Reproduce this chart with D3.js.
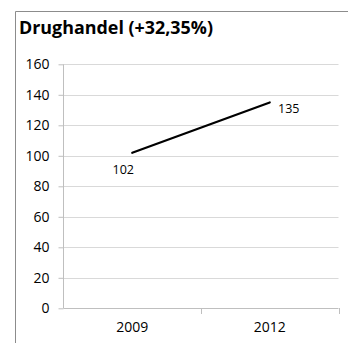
<!DOCTYPE html>
<html><head><meta charset="utf-8">
<script src="https://cdn.jsdelivr.net/npm/d3@7"></script>
<style>html,body{margin:0;padding:0;background:#fff;}</style>
</head><body>
<svg id="c" width="348" height="343"></svg>
<script>
const title = "Drughandel (+32,35%)";
const categories = ["2009", "2012"];
const values = [102, 135];
const yTicks = [0, 20, 40, 60, 80, 100, 120, 140, 160];

(function () {
const svg = d3.select("#c");
const font = "'Open Sans', 'Liberation Sans', sans-serif";

// frame (top and left only)
svg.append("line").attr("x1", 15.5).attr("x2", 348).attr("y1", 11.5).attr("y2", 11.5).attr("stroke", "#8c8c8c");
svg.append("line").attr("x1", 15.5).attr("x2", 15.5).attr("y1", 11.5).attr("y2", 343).attr("stroke", "#8c8c8c");

svg.append("text").attr("x", 19).attr("y", 34).text(title)
  .attr("font-family", font).attr("font-weight", "bold").attr("font-size", 18.5)
  .attr("textLength", 194).attr("lengthAdjust", "spacingAndGlyphs").attr("fill", "#000");

const pLeft = 63.5, pRight = 338.5, pTop = 64.3, pBottom = 308.3;
const x = d3.scaleBand().domain(categories).range([pLeft, pRight]);
const y = d3.scaleLinear().domain([0, 160]).range([pBottom, pTop]);

// gridlines
svg.append("g").selectAll("line").data(yTicks.filter(d => d > 0)).join("line")
  .attr("x1", pLeft).attr("x2", pRight)
  .attr("y1", d => Math.round(y(d)) + 0.5).attr("y2", d => Math.round(y(d)) + 0.5)
  .attr("stroke", "#d9d9d9").attr("stroke-width", 1);

// y axis
const yAxis = svg.append("g").attr("transform", `translate(${pLeft},0)`)
  .call(d3.axisLeft(y).tickValues(yTicks).tickSize(5).tickPadding(9));
yAxis.select(".domain").attr("stroke", "#bfbfbf").attr("d", `M0,${pTop}V${pBottom}`);
yAxis.selectAll(".tick line").attr("stroke", "#bfbfbf");
yAxis.selectAll(".tick text").attr("font-family", font).attr("font-size", 14).attr("fill", "#000");

// x axis
const xAxis = svg.append("g").attr("transform", `translate(0,${Math.round(pBottom) + 0.5})`)
  .call(d3.axisBottom(x).tickSize(0).tickPadding(14));
xAxis.select(".domain").attr("stroke", "#bfbfbf").attr("d", `M${pLeft},0H${pRight}`);
xAxis.selectAll(".tick text").attr("font-family", font).attr("font-size", 14).attr("fill", "#000");
// category boundary ticks
const bounds = [x(categories[1]), pRight];
svg.append("g").selectAll("line").data(bounds).join("line")
  .attr("x1", d => Math.round(d) + 0.5).attr("x2", d => Math.round(d) + 0.5)
  .attr("y1", Math.round(pBottom)).attr("y2", Math.round(pBottom) + 6)
  .attr("stroke", "#bfbfbf");

// line
const pts = categories.map((c, i) => [x(c) + x.bandwidth() / 2, y(values[i])]);
svg.append("path").attr("d", d3.line()(pts)).attr("fill", "none")
  .attr("stroke", "#000").attr("stroke-width", 2.2).attr("stroke-linecap", "round");

// labels
const offsets = [[-9, 21], [19, 11]];
svg.append("g").selectAll("text").data(pts).join("text")
  .attr("x", (d, i) => d[0] + offsets[i][0]).attr("y", (d, i) => d[1] + offsets[i][1])
  .attr("text-anchor", "middle").attr("font-family", font).attr("font-size", 12.5).attr("fill", "#000")
  .text((d, i) => values[i]);
})();
</script>
</body></html>
